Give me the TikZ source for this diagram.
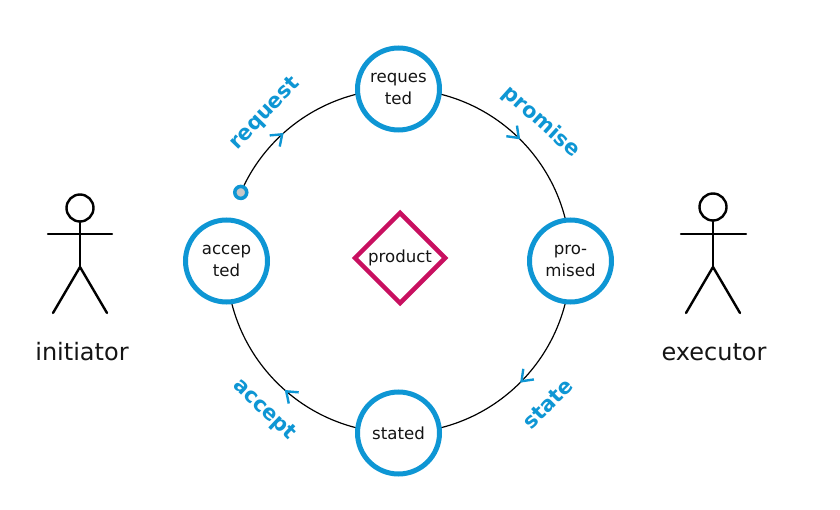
\documentclass[tikz,border=0pt]{standalone}
\usepackage{fontspec}
\setmainfont{DejaVu Sans}
\usetikzlibrary{calc,shapes.geometric,arrows.meta,decorations.markings,backgrounds}
\definecolor{tblue}{RGB}{14,150,212}
\definecolor{tmag}{RGB}{200,16,96}
\definecolor{tgray}{RGB}{200,200,200}
\definecolor{ttext}{RGB}{20,20,20}
\tikzset{
  state/.style={circle,draw=tblue,line width=5pt,fill=white,minimum size=82pt,inner sep=0pt,
    align=center,text=ttext,font=\fontsize{16.6}{22}\selectfont},
  act/.style={font=\bfseries\fontsize{21}{24}\selectfont,text=tblue},
  flow/.style={draw=black,line width=1.2pt,postaction={decorate},
    decoration={markings,mark=at position #1 with {\arrow[color=tblue]{Straight Barb[length=10pt,width=15pt,line width=2.4pt]}}}},
  flow/.default=0.5,
  stick/.style={line width=2.4pt,line cap=round},
  actorlabel/.style={font=\fontsize{24}{28}\selectfont,text=ttext}
}
\begin{document}
\begin{tikzpicture}[x=1pt,y=1pt]
\useasboundingbox (0,0) rectangle (840,509);
\coordinate (C) at (398.5,248);
% states
\node[state] (req) at ($(C)+(90:172)$) {reques\\ted};
\node[state] (prom) at ($(C)+(0:172)$) {pro-\\mised};
\node[state] (stat) at ($(C)+(-90:172)$) {stated};
\node[state] (acc) at ($(C)+(180:172)$) {accep\\ted};
\node[circle,draw=tblue,fill=tgray,line width=3.5pt,minimum size=12pt,inner sep=0pt] (start) at ($(C)+(156.5:172)$) {};
% product
\node[diamond,draw=tmag,line width=4.5pt,minimum size=92pt,inner sep=0pt,text=ttext,
  font=\fontsize{16.6}{20}\selectfont] (prod) at (400,251) {product};
% arcs
\begin{pgfonlayer}{background}
\draw[flow=0.37] (start.center) arc[start angle=156.5,end angle=90,radius=172];
\draw[flow=0.5] (req.center) arc[start angle=90,end angle=0,radius=172];
\draw[flow=0.5] (prom.center) arc[start angle=0,end angle=-90,radius=172];
\draw[flow=0.46] (stat.center) arc[start angle=-90,end angle=-180,radius=172];
\end{pgfonlayer}
% labels
\node[act,rotate=46] (lreq) at (265,395) {request};
\node[act,rotate=-42] (lprom) at (541,387) {promise};
\node[act,rotate=45] (lstate) at (548,105) {state};
\node[act,rotate=-43.5] (lacc) at (264,99) {accept};
% initiator
\node[circle,draw,line width=2.4pt,minimum size=27pt,inner sep=0pt] (ihead) at (80,301) {};
\coordinate (ihip) at (80,242);
\draw[stick] (ihead.south) -- (ihip);
\draw[stick] (48,275) -- (112,275);
\draw[stick] (53,196) -- (ihip) -- (107,196);
\node[actorlabel] (ilabel) at (82,157) {initiator};
% executor
\node[circle,draw,line width=2.4pt,minimum size=27pt,inner sep=0pt] (ehead) at (713,302) {};
\coordinate (ehip) at (713,242);
\draw[stick] (ehead.south) -- (ehip);
\draw[stick] (681,275) -- (746,275);
\draw[stick] (686,196) -- (ehip) -- (740,196);
\node[actorlabel] (elabel) at (714,157) {executor};
\end{tikzpicture}
\end{document}
